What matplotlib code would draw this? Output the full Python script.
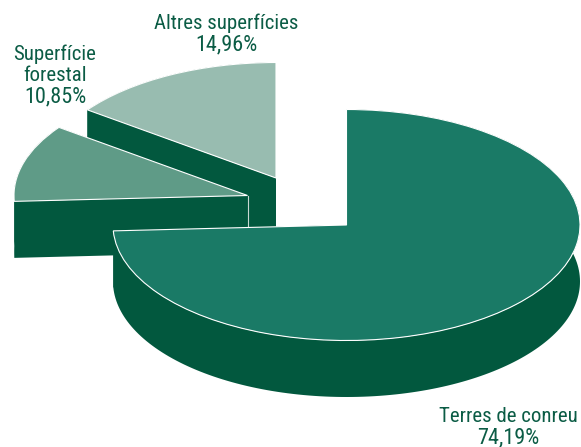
import numpy as np
import matplotlib
matplotlib.use('Agg')
import matplotlib.pyplot as plt
from matplotlib.collections import PolyCollection

W, H = 581, 447
labels = ['Terres de conreu', 'Superfície\nforestal', 'Altres superfícies']
value_labels = ['74,19%', '10,85%', '14,96%']
shares = [74.19, 10.85, 14.96]
colors = ['#1a7a66', '#5f9b87', '#98bcb0']
wall_color = '#02583e'
text_color = '#0b5c45'

# slice apexes in pixels, drawn back to front
apex_px = [(346.5, 225), (247.5, 195.5), (276, 178)]
depths = [56.5, 56.5, 62]
label_px = [(508, 422), (55, 60), (226.5, 29)]   # baseline of first line
line_step = [21, 21, 21]
rx, ry = 233.5, 115.5
squash = rx / ry


def to_y(py):
    return (H - py) * squash


fig = plt.figure(figsize=(W / 100, H / 100), dpi=100)
ax = fig.add_axes([0, 0, 1, 1])

starts = 90 - np.cumsum([0] + shares[:-1]) * 3.6
for i in [2, 1, 0]:
    cx, py = apex_px[i]
    cy = to_y(py)
    th = np.radians(np.linspace(starts[i], starts[i] - shares[i] * 3.6, 200))
    arc = np.c_[cx + rx * np.cos(th), cy + rx * np.sin(th)]
    c = np.array([cx, cy])
    d = np.array([0, depths[i] * squash])
    walls = [np.vstack([arc, arc[::-1] - d]),
             np.array([c, arc[0], arc[0] - d, c - d]),
             np.array([c, arc[-1], arc[-1] - d, c - d])]
    z = i * -3 + 6
    ax.add_collection(PolyCollection(walls, facecolors=wall_color, edgecolors='none', zorder=z))
    ax.pie([shares[i] / 100], normalize=False, startangle=starts[i], counterclock=False,
           center=(cx, cy), radius=rx, colors=[colors[i]],
           wedgeprops=dict(edgecolor='white', linewidth=0.8, zorder=z + 1))
    if i == 1:
        ax.plot([cx, cx], [cy, cy - d[1]], color='#c9d8d2', lw=0.8, zorder=z + 1)

ax.set_aspect('auto')
ax.set_xlim(0, W)
ax.set_ylim(0, H * squash)
ax.axis('off')

for (x, py), lab, val, step in zip(label_px, labels, value_labels, line_step):
    lines = lab.split('\n') + [val]
    for k, line in enumerate(lines):
        ax.text(x, to_y(py + k * step), line, ha='center', va='baseline', color=text_color,
                family=['Roboto Condensed', 'DejaVu Sans'],
                fontsize=16 if k == len(lines) - 1 else 15)

fig.savefig('out.png', dpi=100)
